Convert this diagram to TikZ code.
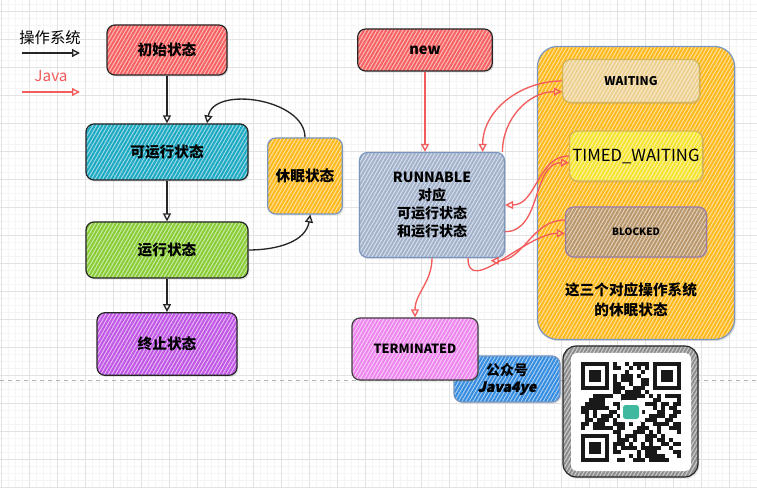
\documentclass[tikz,border=0pt]{standalone}
\usepackage{fontspec}
\setmainfont{Noto Sans CJK SC}
\newfontfamily\slantfont{Noto Sans CJK SC}[FakeSlant=0.2, FakeBold=1.5]
\usetikzlibrary{arrows.meta, patterns.meta, shadows}

\definecolor{javared}{HTML}{F25C5C}
\definecolor{initred}{HTML}{F76060}
\definecolor{readycyan}{HTML}{1AA8C2}
\definecolor{rungreen}{HTML}{88CC34}
\definecolor{deadpurple}{HTML}{C055E6}
\definecolor{sleeporange}{HTML}{FFB81A}
\definecolor{bordblue}{HTML}{7A96C0}
\definecolor{runblue}{HTML}{A2B2CC}
\definecolor{waitbeige}{HTML}{EDCF8E}
\definecolor{waitborder}{HTML}{D2B458}
\definecolor{timedyellow}{HTML}{F6E32C}
\definecolor{blockedtan}{HTML}{B8966A}
\definecolor{blockborder}{HTML}{9A7AA8}
\definecolor{termpink}{HTML}{EE84EE}
\definecolor{wechatblue}{HTML}{348CE0}
\definecolor{qrgrey}{HTML}{8C8C8C}
\definecolor{qrteal}{HTML}{3FB8A0}

\begin{document}
\begin{tikzpicture}[x = 0.75pt, y = 0.75pt,
                        >={Triangle[open, length=6pt, width=6pt]},
                        box/.style={draw=black!85, line width=0.9pt, rounded corners=6pt, align=center,
                                    font=\bfseries\fontsize{11}{14}\selectfont,
                                    drop shadow={shadow xshift=1pt, shadow yshift=-1.2pt, opacity=0.22}},
                        hatch/.style={preaction={fill=#1!40}, pattern={Lines[angle=60, distance=2.4pt, line width=1.5pt]}, pattern color=#1},
                        osarrow/.style={->, draw=black!85, line width=1pt},
                        javaarrow/.style={->, draw=javared, line width=1pt},
                        minorline/.style={draw=black!4, line width=0.4pt},
                        majorline/.style={draw=black!11, line width=0.6pt}]
                        \useasboundingbox (0, 0) rectangle (757, -488);
                        \fill[white] (0, 0) rectangle (757, -488);
                        
                        \foreach \gx in {1, 8, ..., 757} \draw[minorline] (\gx, 0) -- (\gx, -488);
                        \foreach \gy in {4, 11, ..., 488} \draw[minorline] (0, -\gy) -- (757, -\gy);
                        \foreach \gx in {1, 29, ..., 757} \draw[majorline] (\gx, 0) -- (\gx, -488);
                        \foreach \gy in {11, 39, ..., 488} \draw[majorline] (0, -\gy) -- (757, -\gy);
                        \draw[black!30, dashed, line width=0.6pt] (0, -380) -- (757, -380);
                        
                        \node (oslabel) at (50, -38) [font=\fontsize{11.5}{13}\selectfont] {操作系统};
                        \coordinate (osfrom) at (22, -53);
                        \coordinate (osto) at (80, -53);
                        \draw[osarrow] (osfrom) -- (osto);
                        \node (javalabel) at (51, -76) [text=javared, font=\fontsize{11.5}{13}\selectfont] {Java};
                        \coordinate (javafrom) at (22, -92);
                        \coordinate (javato) at (80, -92);
                        \draw[javaarrow] (javafrom) -- (javato);
                        
                        \node (init) at (167, -50) [box, hatch=initred, minimum width=90pt, minimum height=37.5pt] {初始状态};
                        \node (ready) at (167, -152) [box, hatch=readycyan, minimum width=121.5pt, minimum height=42pt] {可运行状态};
                        \node (running) at (167, -250) [box, hatch=rungreen, minimum width=121.5pt, minimum height=42pt] {运行状态};
                        \node (dead) at (167, -344) [box, hatch=deadpurple, minimum width=105pt, minimum height=47pt] {终止状态};
                        \node (sleep) at (305, -176) [box, hatch=sleeporange, draw=bordblue, minimum width=56pt, minimum height=57pt] {休眠状态};
                        
                        \draw[osarrow] (init) -- (ready);
                        \draw[osarrow] (ready) -- (running);
                        \draw[osarrow] (running) -- (dead);
                        \draw[osarrow] (running) to [out=0, in=-100] ([xshift=4pt]sleep.south);
                        \draw[osarrow] (sleep.north) to [out=90, in=80] ([xshift=30pt]ready.north);
                        
                        \node (newj) at (425, -50) [box, hatch=initred, minimum width=101pt, minimum height=31.5pt] {new};
                        \node (runnable) at (432, -205) [box, hatch=runblue, draw=bordblue, minimum width=108.75pt, minimum height=78.75pt,
                                                         font=\bfseries\fontsize{10.5}{13.5}\selectfont] {RUNNABLE\\对应\\可运行状态\\和运行状态};
                        
                        \node (osgroup) at (636, -193) [box, hatch=sleeporange, draw=bordblue, rounded corners=15pt, minimum width=147.75pt, minimum height=219.75pt] {};
                        \node (osnote) at (631, -300) [align=center, font=\bfseries\fontsize{11}{15}\selectfont] {这三个对应操作系统\\的休眠状态};
                        \node (waiting) at (631, -81) [box, hatch=waitbeige, draw=waitborder, minimum width=102.75pt, minimum height=32.25pt,
                                                       font=\bfseries\fontsize{9}{11}\selectfont] {WAITING};
                        \node (timed) at (636, -156) [box, hatch=timedyellow, draw=waitborder, minimum width=99.75pt, minimum height=37.5pt, inner sep=1pt,
                                                      font=\fontsize{12.5}{15}\selectfont] {TIMED\_WAITING};
                        \node (blocked) at (636, -232) [box, hatch=blockedtan, draw=blockborder, minimum width=105.75pt, minimum height=37.5pt,
                                                        font=\bfseries\fontsize{7.5}{9}\selectfont] {BLOCKED};
                        
                        \draw[javaarrow] (newj.south) -- (newj.south |- runnable.north);
                        \draw[javaarrow] (waiting.west) to [out=180, in=90] ([xshift=38pt]runnable.north);
                        \draw[javaarrow] ([xshift=-2pt]runnable.north east) to [out=90, in=180] ([yshift=-8pt]waiting.west);
                        \draw[javaarrow] (timed.west) to [out=180, in=0] (runnable.east);
                        \draw[javaarrow] ([yshift=-20pt]runnable.east) to [out=0, in=180] ([yshift=-5pt]timed.west);
                        \draw[javaarrow] ([xshift=27pt]runnable.south) to [out=-90, in=180] ([yshift=-1pt]blocked.west);
                        \draw[javaarrow] ([yshift=9pt]blocked.west) to [out=180, in=0] ([xshift=44pt, yshift=-2pt]runnable.south);
                        
                        \node (wechat) at (507, -379) [box, hatch=wechatblue, draw=bordblue, minimum width=79.5pt, minimum height=34.5pt,
                                                       font=\bfseries\fontsize{10.5}{12.5}\selectfont] {公众号\\{\slantfont Java4ye}};
                        \node (term) at (415, -349) [box, hatch=termpink, draw=black!75, minimum width=94.5pt, minimum height=46.5pt,
                                                     font=\bfseries\fontsize{9.5}{11}\selectfont] {TERMINATED};
                        \draw[javaarrow] (runnable.south) to [out=-90, in=90] (term.north);
                        
                        \node (qrcard) at (630.5, -411.5) [box, hatch=qrgrey, minimum width=101.25pt, minimum height=98.25pt, rounded corners=10pt] {};
                        \fill[white, rounded corners=4pt] (571, -353) rectangle (691, -471);
                        \foreach \i in {0, ..., 24} {
                            \foreach \j in {0, ..., 24} {
                                \pgfmathtruncatemacro{\qon}{(rnd < 0.55) * ((\i > 7) || (\j > 7)) * ((\i < 17) || (\j > 7)) * ((\i > 7) || (\j < 17))}
                                \ifnum\qon=1 \fill[black!90] (581 + 4*\i, -362 - 4*\j) rectangle ++(4, -4); \fi
                            }
                        }
                        \foreach \qx/\qy in {581/-362, 653/-362, 581/-434} {
                            \fill[black!90] (\qx, \qy) rectangle ++(28, -28);
                            \fill[white] (\qx + 4, \qy - 4) rectangle ++(20, -20);
                            \fill[black!90] (\qx + 8, \qy - 8) rectangle ++(12, -12);
                        }
                        \fill[white, rounded corners=2pt] (620, -400) rectangle (642, -422);
                        \fill[qrteal, rounded corners=2pt] (623, -405) rectangle (639, -419);
                    \end{tikzpicture}
\end{document}
